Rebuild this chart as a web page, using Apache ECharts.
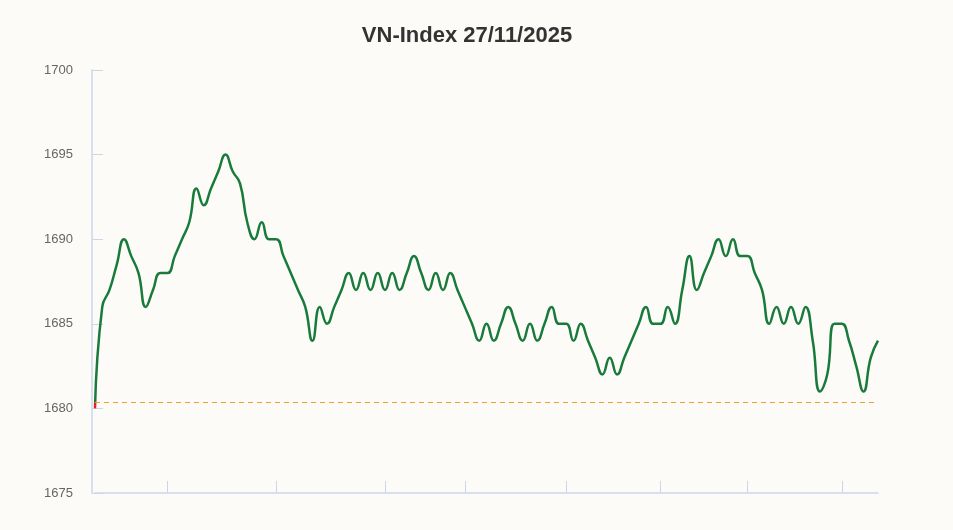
<!DOCTYPE html>
<html>
<head>
<meta charset="utf-8">
<title>VN-Index 27/11/2025</title>
<script src="https://cdn.jsdelivr.net/npm/echarts@6/dist/echarts.min.js"></script>
<style>
  html, body { margin: 0; padding: 0; background: #fcfbf8; }
  #chart { width: 953px; height: 530px; }
</style>
</head>
<body>
<div id="chart"></div>
<script>
// giá trị chỉ số theo từng mốc trong phiên
const values = [
  1680, 1686, 1687, 1688.5, 1690, 1689, 1688, 1686, 1687, 1688,
  1688, 1689, 1690, 1691, 1693, 1692, 1693, 1694, 1695, 1694,
  1693.3, 1691, 1690, 1691, 1690, 1690, 1689, 1688, 1687, 1686,
  1684, 1686, 1685, 1686, 1687, 1688, 1687, 1688, 1687, 1688,
  1687, 1688, 1687, 1688, 1689, 1688, 1687, 1688, 1687, 1688,
  1687, 1686, 1685, 1684, 1685, 1684, 1685, 1686, 1685, 1684,
  1685, 1684, 1685, 1686, 1685, 1685, 1684, 1685, 1684, 1683,
  1682, 1683, 1682, 1683, 1684, 1685, 1686, 1685, 1685, 1686,
  1685, 1687, 1689, 1687, 1688, 1689, 1690, 1689, 1690, 1689,
  1689, 1688, 1687, 1685, 1686, 1685, 1686, 1685, 1686, 1684,
  1681, 1682, 1685, 1685, 1684, 1682.5, 1681, 1683, 1684
]
const categories = values.map((v, i) => i)
const tickIndex = [10, 25, 40, 51, 65, 78, 90, 103] // vị trí vạch trên trục X
const yTicks = [1675, 1680, 1685, 1690, 1695, 1700]
const prevClose = 1680.35 // giá tham chiếu

const axisColor = '#ccd6eb'

const chart = echarts.init(document.getElementById('chart'))
chart.setOption({
  backgroundColor: '#fcfbf8',
  title: {
    text: 'VN-Index 27/11/2025',
    left: 467,
    top: 25,
    padding: 0,
    textAlign: 'center',
    textStyle: {
      fontFamily: 'Liberation Sans, Arial, sans-serif',
      fontSize: 22,
      fontWeight: 'bold',
      color: '#333'
    }
  },
  grid: {
    left: 95,
    right: 75,
    top: 70,
    bottom: 37
  },
  visualMap: {
    show: false,
    seriesIndex: 0,
    dimension: 1,
    // cần biên hữu hạn để line có gradient
    pieces: [
      { gte: 1600, lt: prevClose, color: '#d62728' },
      { gte: prevClose, lte: 1800, color: '#197b3b' }
    ]
  },
  xAxis: {
    type: 'category',
    data: categories,
    boundaryGap: false,
    axisLine: { lineStyle: { color: axisColor, width: 1.5 } },
    axisTick: {
      inside: true,
      length: 12,
      interval: (idx) => tickIndex.includes(idx),
      lineStyle: { color: axisColor }
    },
    axisLabel: { show: false },
    splitLine: { show: false }
  },
  yAxis: {
    type: 'value',
    min: yTicks[0],
    max: yTicks[yTicks.length - 1],
    interval: 5,
    offset: 3,
    axisLine: { show: true, lineStyle: { color: axisColor, width: 1.5 } },
    axisTick: {
      show: true,
      inside: true,
      length: 11,
      lineStyle: { color: axisColor }
    },
    axisLabel: {
      margin: 19,
      color: '#666',
      fontSize: 13,
      fontFamily: 'Liberation Sans, Arial, sans-serif',
      formatter: (v) => String(v)
    },
    splitLine: { show: false }
  },
  series: [
    {
      type: 'line',
      data: values,
      smooth: true,
      symbol: 'none',
      lineStyle: { width: 2.5 },
      markLine: {
        silent: true,
        symbol: 'none',
        label: { show: false },
        lineStyle: { color: '#f0a030', type: [5, 4], width: 1.2 },
        data: [{ yAxis: prevClose }]
      }
    }
  ]
})
</script>
</body>
</html>
